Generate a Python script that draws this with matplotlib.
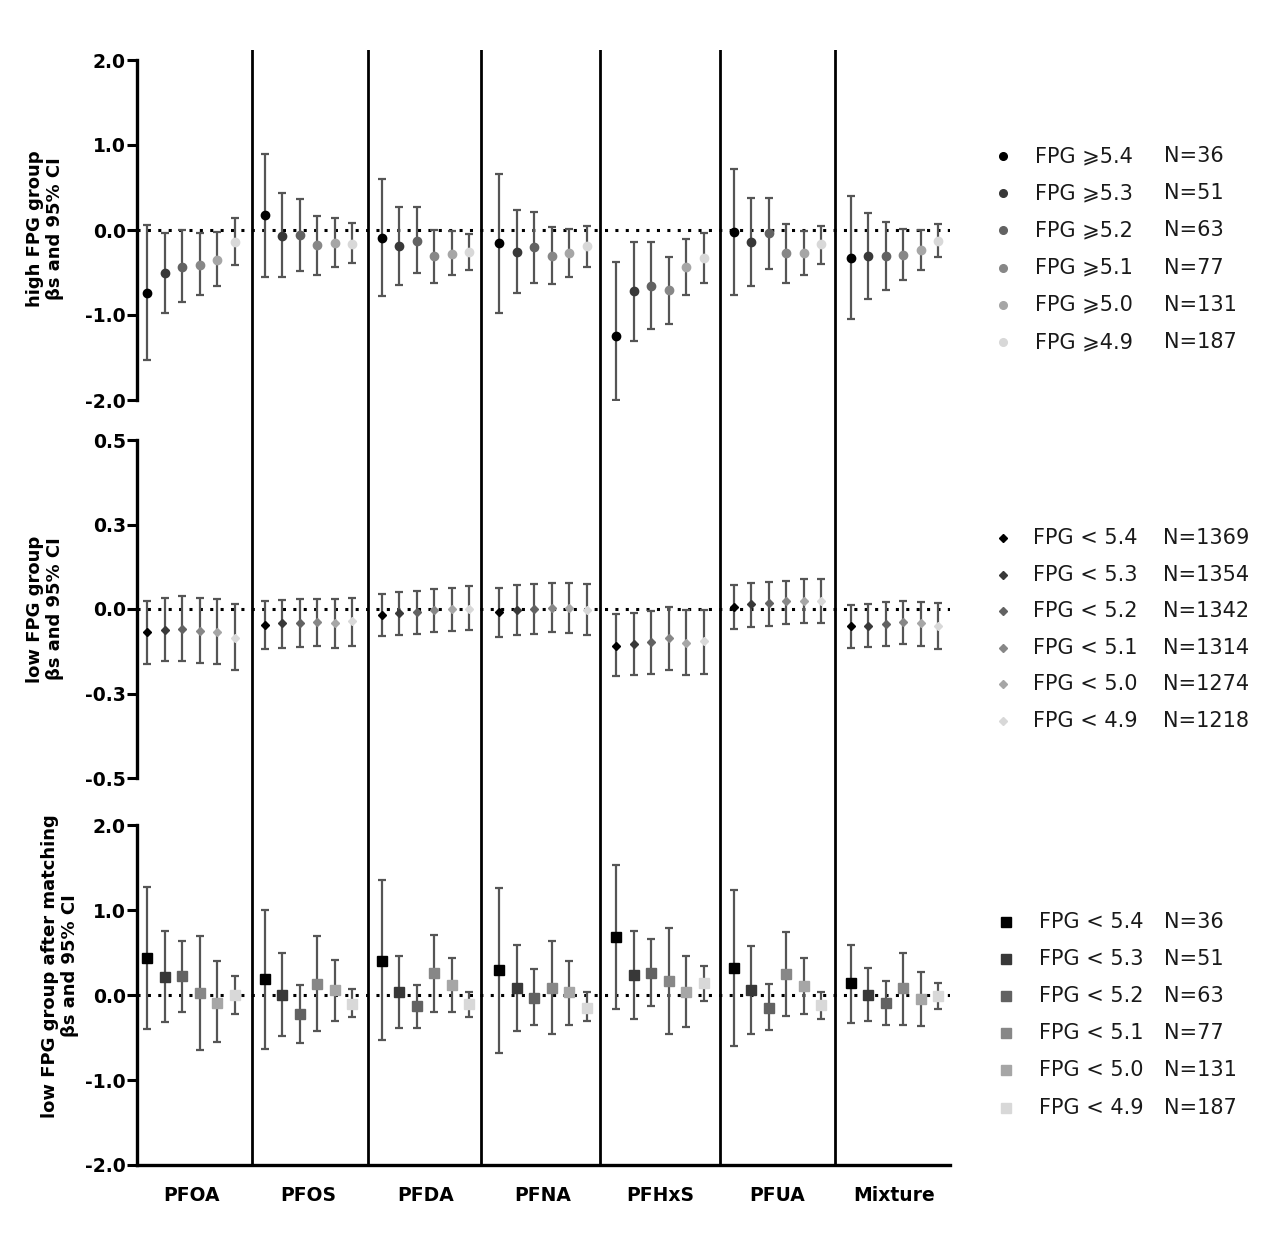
import matplotlib.pyplot as plt

plt.rcParams['font.family'] = ['DejaVu Sans', 'Noto Sans', 'Noto Sans CJK SC']

W, H = 1269, 1240

chemicals = ['PFOA', 'PFOS', 'PFDA', 'PFNA', 'PFHxS', 'PFUA', 'Mixture']

# high FPG group (one row per chemical, six cut-offs)
high_beta = [
    [-0.74, -0.51, -0.43, -0.41, -0.35, -0.14],
    [0.18, -0.07, -0.06, -0.18, -0.15, -0.16],
    [-0.09, -0.19, -0.13, -0.31, -0.28, -0.26],
    [-0.15, -0.26, -0.20, -0.31, -0.27, -0.19],
    [-1.25, -0.72, -0.66, -0.71, -0.44, -0.33],
    [-0.02, -0.14, -0.04, -0.27, -0.27, -0.17],
    [-0.33, -0.31, -0.31, -0.29, -0.23, -0.13],
]
high_lo = [
    [-1.53, -0.98, -0.85, -0.77, -0.66, -0.41],
    [-0.55, -0.55, -0.48, -0.53, -0.43, -0.39],
    [-0.78, -0.65, -0.51, -0.62, -0.53, -0.47],
    [-0.98, -0.74, -0.62, -0.64, -0.55, -0.43],
    [-2.00, -1.31, -1.17, -1.10, -0.76, -0.62],
    [-0.76, -0.66, -0.46, -0.62, -0.53, -0.40],
    [-1.05, -0.81, -0.71, -0.59, -0.47, -0.32],
]
high_hi = [
    [0.06, -0.04, 0.00, -0.04, -0.02, 0.14],
    [0.90, 0.44, 0.36, 0.17, 0.14, 0.08],
    [0.60, 0.27, 0.27, 0.00, -0.01, -0.05],
    [0.66, 0.23, 0.21, 0.03, 0.01, 0.05],
    [-0.38, -0.14, -0.14, -0.32, -0.11, -0.04],
    [0.72, 0.38, 0.38, 0.07, -0.01, 0.05],
    [0.40, 0.20, 0.10, 0.01, 0.00, 0.07],
]

# low FPG group
low_beta = [
    [-0.069, -0.063, -0.059, -0.064, -0.068, -0.085],
    [-0.048, -0.041, -0.041, -0.039, -0.041, -0.036],
    [-0.019, -0.012, -0.010, -0.004, 0.000, 0.000],
    [-0.010, -0.003, 0.000, 0.003, 0.002, -0.002],
    [-0.108, -0.103, -0.098, -0.087, -0.100, -0.095],
    [0.007, 0.016, 0.018, 0.023, 0.025, 0.025],
    [-0.051, -0.049, -0.044, -0.038, -0.042, -0.051],
]
low_lo = [
    [-0.162, -0.155, -0.153, -0.159, -0.164, -0.181],
    [-0.118, -0.114, -0.112, -0.110, -0.114, -0.110],
    [-0.081, -0.076, -0.075, -0.067, -0.066, -0.061],
    [-0.083, -0.076, -0.073, -0.069, -0.072, -0.077],
    [-0.199, -0.196, -0.192, -0.180, -0.195, -0.191],
    [-0.058, -0.052, -0.049, -0.043, -0.041, -0.041],
    [-0.115, -0.113, -0.110, -0.104, -0.109, -0.117],
]
low_hi = [
    [0.025, 0.032, 0.037, 0.032, 0.029, 0.015],
    [0.023, 0.027, 0.029, 0.030, 0.029, 0.034],
    [0.045, 0.049, 0.052, 0.060, 0.062, 0.067],
    [0.062, 0.070, 0.073, 0.077, 0.076, 0.074],
    [-0.016, -0.012, -0.006, 0.006, -0.002, -0.002],
    [0.072, 0.076, 0.079, 0.084, 0.088, 0.089],
    [0.012, 0.016, 0.020, 0.025, 0.022, 0.017],
]

# low FPG group after matching
match_beta = [
    [0.44, 0.21, 0.22, 0.02, -0.09, 0.00],
    [0.19, 0.00, -0.22, 0.13, 0.06, -0.11],
    [0.40, 0.03, -0.13, 0.26, 0.12, -0.11],
    [0.29, 0.08, -0.03, 0.08, 0.03, -0.15],
    [0.68, 0.24, 0.26, 0.17, 0.04, 0.14],
    [0.32, 0.06, -0.15, 0.25, 0.11, -0.12],
    [0.14, 0.00, -0.09, 0.08, -0.05, -0.01],
]
match_lo = [
    [-0.40, -0.32, -0.20, -0.65, -0.55, -0.22],
    [-0.63, -0.48, -0.57, -0.42, -0.30, -0.26],
    [-0.53, -0.39, -0.39, -0.20, -0.20, -0.26],
    [-0.68, -0.42, -0.35, -0.46, -0.35, -0.31],
    [-0.17, -0.28, -0.13, -0.46, -0.38, -0.07],
    [-0.60, -0.46, -0.41, -0.25, -0.22, -0.28],
    [-0.33, -0.31, -0.35, -0.35, -0.37, -0.16],
]
match_hi = [
    [1.27, 0.75, 0.64, 0.69, 0.40, 0.22],
    [1.00, 0.49, 0.12, 0.69, 0.41, 0.07],
    [1.35, 0.46, 0.12, 0.71, 0.44, 0.04],
    [1.26, 0.59, 0.31, 0.63, 0.40, 0.03],
    [1.53, 0.75, 0.66, 0.79, 0.46, 0.34],
    [1.23, 0.58, 0.13, 0.74, 0.44, 0.04],
    [0.59, 0.32, 0.17, 0.49, 0.27, 0.14],
]

high_labels = ['FPG \u2a7e5.4', 'FPG \u2a7e5.3', 'FPG \u2a7e5.2',
               'FPG \u2a7e5.1', 'FPG \u2a7e5.0', 'FPG \u2a7e4.9']
high_n = ['N=36', 'N=51', 'N=63', 'N=77', 'N=131', 'N=187']
low_labels = ['FPG < 5.4', 'FPG < 5.3', 'FPG < 5.2',
              'FPG < 5.1', 'FPG < 5.0', 'FPG < 4.9']
low_n = ['N=1369', 'N=1354', 'N=1342', 'N=1314', 'N=1274', 'N=1218']
match_labels = low_labels
match_n = high_n

grays = ['#000000', '#383838', '#626262', '#878787', '#a6a6a6', '#d8d8d8']
bar_col = '#555555'

group_step = 6.7
xlim = (-0.59, 45.87)
sep_x = [5.98, 12.6, 19.07, 25.87, 32.73, 39.3]
centers = [i * group_step + 2.5 for i in range(len(chemicals))]


def box(l, t, r, b):
    return [l / W, 1 - b / H, (r - l) / W, (b - t) / H]


fig = plt.figure(figsize=(W / 100, H / 100), dpi=100)

panels = [
    dict(pos=(137, 60, 950, 400), beta=high_beta, lo=high_lo, hi=high_hi,
         ylim=(-2, 2), ticks=[2, 1, 0, -1, -2],
         tlabels=['2.0', '1.0', '0.0', '-1.0', '-2.0'],
         marker='o', ms=6, ylabel='high FPG group\n\u03b2s and 95% CI',
         lab_xy=(45, 229), leg=(high_labels, high_n), leg_y0=156, leg_dy=37.2,
         leg_x=(1003, 1035, 1164), leg_ms=5.5),
    dict(pos=(137, 440, 950, 778), beta=low_beta, lo=low_lo, hi=low_hi,
         ylim=(-0.5, 0.5), ticks=[0.5, 0.25, 0, -0.25, -0.5],
         tlabels=['0.5', '0.3', '0.0', '-0.3', '-0.5'],
         marker='D', ms=3.6, ylabel='low FPG group\n\u03b2s and 95% CI',
         lab_xy=(45, 609), leg=(low_labels, low_n), leg_y0=538, leg_dy=36.6,
         leg_x=(1003, 1033, 1163), leg_ms=3.6),
    dict(pos=(137, 825, 950, 1165), beta=match_beta, lo=match_lo, hi=match_hi,
         ylim=(-2, 2), ticks=[2, 1, 0, -1, -2],
         tlabels=['2.0', '1.0', '0.0', '-1.0', '-2.0'],
         marker='s', ms=7.5,
         ylabel='low FPG group after matching\n\u03b2s and 95% CI',
         lab_xy=(60, 966), leg=(match_labels, match_n), leg_y0=922, leg_dy=37.1,
         leg_x=(1006, 1039, 1164), leg_ms=7.5),
]

for k, p in enumerate(panels):
    ax = fig.add_axes(box(*p['pos']))
    ax.axhline(0, color='black', lw=2.2, ls=(0, (1, 2.4)), zorder=1)
    for i in range(len(chemicals)):
        for j in range(6):
            b = p['beta'][i][j]
            ax.errorbar(i * group_step + j, b,
                        yerr=[[b - p['lo'][i][j]], [p['hi'][i][j] - b]],
                        fmt=p['marker'], ms=p['ms'], mfc=grays[j], mec=grays[j],
                        ecolor=bar_col, elinewidth=1.6, capsize=2.8,
                        capthick=1.6, zorder=3)
    ax.set_xlim(*xlim)
    ax.set_ylim(*p['ylim'])
    ax.set_yticks(p['ticks'])
    ax.set_yticklabels(p['tlabels'], fontweight='bold', fontsize=13.5)
    ax.tick_params(axis='y', direction='out', length=7, width=2.2, pad=1)
    for s in ['top', 'right']:
        ax.spines[s].set_visible(False)
    ax.spines['left'].set_linewidth(2.4)
    if k < 2:
        ax.spines['bottom'].set_visible(False)
        ax.set_xticks([])
    else:
        ax.spines['bottom'].set_linewidth(2.4)
        ax.set_xticks(centers)
        ax.set_xticklabels(chemicals, fontweight='bold', fontsize=13.5)
        ax.tick_params(axis='x', length=0, pad=15)
    ax.patch.set_alpha(0)

    fig.text(p['lab_xy'][0] / W, 1 - p['lab_xy'][1] / H, p['ylabel'],
             rotation=90, ha='center', va='center', multialignment='center',
             fontweight='bold', fontsize=13, linespacing=1.2)

# vertical separators running through all three panels
sep_ax = fig.add_axes(box(137, 50, 950, 1165))
sep_ax.set_xlim(*xlim)
sep_ax.set_ylim(0, 1)
sep_ax.axis('off')
for x in sep_x:
    sep_ax.axvline(x, color='black', lw=2)

# legends
leg_ax = fig.add_axes([0, 0, 1, 1])
leg_ax.set_xlim(0, W)
leg_ax.set_ylim(H, 0)
leg_ax.axis('off')
for p in panels:
    labels, ns = p['leg']
    mx, tx, nx = p['leg_x']
    for j in range(6):
        y = p['leg_y0'] + j * p['leg_dy']
        leg_ax.plot([mx], [y], marker=p['marker'], ms=p['leg_ms'],
                    color=grays[j], ls='none')
        leg_ax.text(tx, y, labels[j], fontsize=15, va='center', ha='left',
                    color='#1a1a1a')
        leg_ax.text(nx, y, ns[j], fontsize=15, va='center', ha='left',
                    color='#1a1a1a')

fig.savefig('out.png', dpi=100)
